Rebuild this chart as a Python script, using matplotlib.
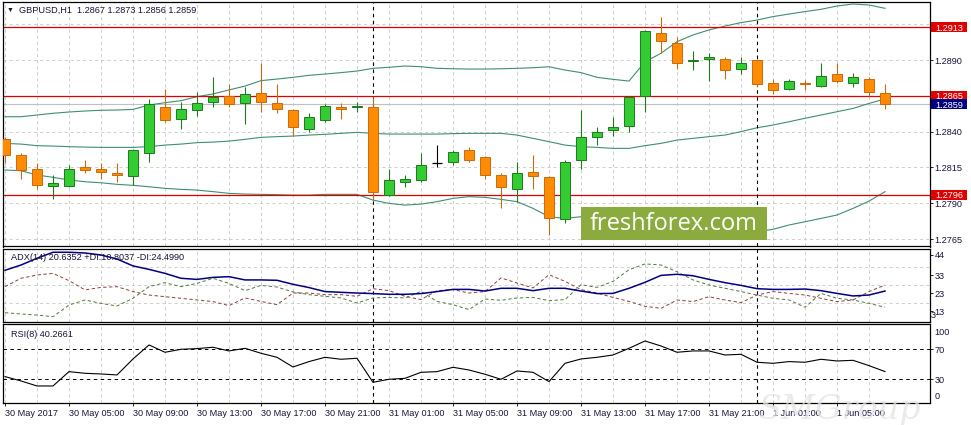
import numpy as np
import matplotlib
matplotlib.use("Agg")
import matplotlib.pyplot as plt
import matplotlib.transforms as mtransforms
from matplotlib.patches import Rectangle

plt.rcParams['font.family'] = ['Liberation Sans', 'DejaVu Sans']
plt.rcParams['lines.scale_dashes'] = False

header = "GBPUSD,H1  1.2867 1.2873 1.2856 1.2859"
adx_title = "ADX(14) 20.6352 +DI:10.8037 -DI:24.4990"
rsi_title = "RSI(8) 40.2661"

first_bar = np.datetime64("2017-05-30T01:00")

# hourly candles
opens = [1.2835, 1.2824, 1.2814, 1.2802, 1.2802, 1.2815, 1.2814, 1.2811, 1.2809, 1.2825,
         1.2857, 1.2849, 1.2855, 1.2861, 1.2865, 1.2860, 1.2867, 1.2860, 1.2855, 1.2842,
         1.2848, 1.2857, 1.2857, 1.2857, 1.2796, 1.2805, 1.2806, 1.2818, 1.2819, 1.2827,
         1.2822, 1.2810, 1.2800, 1.2812, 1.2808, 1.2779, 1.2820, 1.2836, 1.2841, 1.2844,
         1.2865, 1.2909, 1.2902, 1.2889, 1.2891, 1.2891, 1.2884, 1.2890, 1.2874, 1.2870,
         1.2874, 1.2872, 1.2880, 1.2874, 1.2877, 1.2867]
highs = [1.2836, 1.2825, 1.2818, 1.2810, 1.2817, 1.2820, 1.2818, 1.2818, 1.2828, 1.2863,
         1.2870, 1.2861, 1.2868, 1.2878, 1.2873, 1.2871, 1.2888, 1.2873, 1.2856, 1.2853,
         1.2859, 1.2860, 1.2861, 1.2864, 1.2814, 1.2810, 1.2825, 1.2831, 1.2827, 1.2829,
         1.2823, 1.2811, 1.2819, 1.2824, 1.2809, 1.2820, 1.2855, 1.2843, 1.2850, 1.2865,
         1.2911, 1.2920, 1.2906, 1.2896, 1.2895, 1.2892, 1.2892, 1.2891, 1.2877, 1.2877,
         1.2876, 1.2888, 1.2888, 1.2881, 1.2878, 1.2873]
lows = [1.2818, 1.2807, 1.2800, 1.2793, 1.2801, 1.2811, 1.2807, 1.2805, 1.2803, 1.2819,
        1.2847, 1.2842, 1.2851, 1.2857, 1.2857, 1.2845, 1.2854, 1.2853, 1.2837, 1.2840,
        1.2847, 1.2849, 1.2854, 1.2792, 1.2795, 1.2801, 1.2805, 1.2815, 1.2817, 1.2819,
        1.2807, 1.2787, 1.2791, 1.2800, 1.2768, 1.2776, 1.2814, 1.2831, 1.2837, 1.2840,
        1.2854, 1.2895, 1.2884, 1.2883, 1.2875, 1.2877, 1.2880, 1.2871, 1.2866, 1.2869,
        1.2869, 1.2871, 1.2874, 1.2871, 1.2865, 1.2856]
closes = [1.2824, 1.2813, 1.2803, 1.2804, 1.2814, 1.2813, 1.2812, 1.2810, 1.2827, 1.2859,
          1.2848, 1.2856, 1.2860, 1.2864, 1.2859, 1.2866, 1.2861, 1.2856, 1.2843, 1.2850,
          1.2858, 1.2856, 1.2858, 1.2798, 1.2806, 1.2807, 1.2817, 1.2818, 1.2826, 1.2820,
          1.2810, 1.2801, 1.2811, 1.2809, 1.2780, 1.2819, 1.2836, 1.2840, 1.2843, 1.2864,
          1.2910, 1.2903, 1.2888, 1.2890, 1.2892, 1.2883, 1.2888, 1.2873, 1.2869, 1.2875,
          1.2873, 1.2879, 1.2875, 1.2878, 1.2868, 1.2859]

bb_upper = [1.28504, 1.28504, 1.28516, 1.28528, 1.28537, 1.28544, 1.28549, 1.28551, 1.28555, 1.28586,
            1.28602, 1.28616, 1.28644, 1.28663, 1.28691, 1.28718, 1.28756, 1.28767, 1.28779, 1.28793,
            1.28802, 1.28812, 1.28823, 1.28842, 1.28849, 1.28858, 1.28853, 1.28842, 1.28839, 1.28837,
            1.28837, 1.28839, 1.28842, 1.28846, 1.28853, 1.28830, 1.28812, 1.28779, 1.28765, 1.28753,
            1.28888, 1.28947, 1.29028, 1.29075, 1.29110, 1.29137, 1.29161, 1.29179, 1.29203, 1.29221,
            1.29238, 1.29254, 1.29277, 1.29291, 1.29284, 1.29261]
bb_mid = [1.28318, 1.28313, 1.28302, 1.28299, 1.28295, 1.28292, 1.28290, 1.28290, 1.28290, 1.28295,
          1.28306, 1.28313, 1.28323, 1.28327, 1.28334, 1.28346, 1.28360, 1.28365, 1.28369, 1.28376,
          1.28381, 1.28388, 1.28395, 1.28388, 1.28383, 1.28383, 1.28383, 1.28383, 1.28386, 1.28388,
          1.28388, 1.28388, 1.28376, 1.28353, 1.28330, 1.28306, 1.28295, 1.28290, 1.28283, 1.28283,
          1.28302, 1.28318, 1.28341, 1.28353, 1.28365, 1.28376, 1.28400, 1.28427, 1.28446, 1.28469,
          1.28493, 1.28516, 1.28539, 1.28562, 1.28597, 1.28628]
bb_lower = [1.28132, 1.28127, 1.28097, 1.28081, 1.28062, 1.28050, 1.28043, 1.28032, 1.28025, 1.28015,
            1.28004, 1.27997, 1.27992, 1.27981, 1.27969, 1.27964, 1.27962, 1.27960, 1.27957, 1.27957,
            1.27962, 1.27962, 1.27962, 1.27922, 1.27899, 1.27887, 1.27894, 1.27911, 1.27934, 1.27946,
            1.27941, 1.27927, 1.27911, 1.27864, 1.27806, 1.27794, 1.27806, 1.27783, 1.27764, 1.27748,
            1.27713, 1.27690, 1.27678, 1.27671, 1.27671, 1.27678, 1.27690, 1.27701, 1.27718, 1.27748,
            1.27771, 1.27794, 1.27818, 1.27864, 1.27915, 1.27981]

adx = [35.6, 38.5, 42.2, 45.5, 45.5, 45.1, 44.0, 41.8, 38.0, 36.1,
       33.9, 31.2, 30.6, 31.7, 32.1, 30.3, 30.3, 30.1, 27.9, 26.1,
       23.9, 23.5, 23.1, 22.8, 22.4, 22.4, 22.8, 23.9, 25.1, 25.1,
       24.2, 25.7, 25.7, 24.4, 25.7, 25.7, 24.2, 22.8, 22.9, 25.7,
       29.0, 32.8, 33.4, 32.6, 30.6, 28.8, 27.3, 25.5, 25.1, 25.1,
       25.3, 24.4, 22.9, 21.5, 22.0, 24.2]
plus_di = [12.3, 11.6, 11.0, 10.1, 16.5, 19.3, 17.4, 16.0, 20.2, 26.6,
           28.8, 26.6, 28.4, 31.2, 28.4, 24.4, 27.3, 26.4, 23.7, 22.2,
           21.3, 20.4, 17.6, 20.4, 20.7, 20.4, 24.0, 18.5, 16.7, 14.0,
           19.8, 19.1, 20.4, 20.7, 18.9, 19.5, 27.7, 26.2, 29.5, 35.9,
           39.1, 38.5, 34.8, 30.3, 27.5, 25.7, 23.9, 22.0, 20.2, 19.3,
           15.3, 22.9, 20.2, 19.3, 17.4, 15.3]
minus_di = [26.6, 31.2, 33.0, 33.9, 29.9, 24.8, 26.2, 26.6, 23.9, 22.0,
            21.1, 20.2, 19.3, 18.4, 16.2, 20.4, 18.5, 16.7, 23.1, 23.1,
            22.2, 22.2, 21.3, 25.5, 24.4, 21.3, 19.5, 24.4, 25.0, 23.1,
            23.9, 31.4, 28.6, 25.9, 33.2, 29.5, 25.0, 23.1, 20.7, 18.5,
            15.8, 14.7, 19.3, 18.4, 21.1, 19.3, 17.8, 22.0, 23.9, 22.9,
            22.0, 20.2, 18.4, 19.3, 23.9, 27.5]
rsi = [33.6, 27.8, 21.1, 21.1, 40.2, 38.0, 37.1, 35.8, 57.1, 75.8,
       66.0, 70.0, 70.9, 72.7, 67.8, 71.3, 64.7, 59.3, 46.4, 53.6,
       59.3, 56.7, 58.0, 26.0, 30.0, 31.3, 39.3, 40.2, 46.0, 42.4,
       36.7, 30.0, 41.1, 39.3, 26.9, 51.3, 57.1, 59.3, 62.4, 71.3,
       81.1, 74.4, 66.0, 67.8, 67.8, 62.4, 63.3, 52.7, 51.3, 53.6,
       52.7, 56.7, 54.4, 55.3, 48.2, 40.3]

levels = [1.2913, 1.2865, 1.2796]
last_price = 1.2859
price_ticks = [1.2765, 1.2790, 1.2815, 1.2840, 1.2865, 1.2890, 1.2915]
price_labels = ["1.2765", "1.2790", "1.2815", "1.2840", "", "1.2890", ""]
adx_ticks = [44, 33, 23, 13]
adx_grid = [37.5, 27.5, 17.5]
rsi_levels = [70, 30]
time_labels = ["30 May 2017", "30 May 05:00", "30 May 09:00", "30 May 13:00",
               "30 May 17:00", "30 May 21:00", "31 May 01:00", "31 May 05:00",
               "31 May 09:00", "31 May 13:00", "31 May 17:00", "31 May 21:00",
               "1 Jun 01:00", "1 Jun 05:00"]

n = len(opens)
x = np.arange(n)
times = first_bar + x * np.timedelta64(1, "h")
hours = (times - times.astype("datetime64[D]")).astype("timedelta64[h]").astype(int)
day_starts = x[hours == 0]

TXT = "#15153a"
FS = 6.6
GRID = dict(color="#c6c6c6", linestyle=(0, (2.2, 2.2)), linewidth=0.6)
W, H = 971, 425
fig = plt.figure(figsize=(W / 100, H / 100), dpi=100)


def box(x0, y0, x1, y1):
    return [x0 / W, 1 - y1 / H, (x1 - x0) / W, (y1 - y0) / H]


ax = fig.add_axes(box(3, 2, 929.5, 246.5))
ax_adx = fig.add_axes(box(3, 248.5, 929.5, 321.5))
ax_rsi = fig.add_axes(box(3, 324, 929.5, 403))

for a in (ax, ax_adx, ax_rsi):
    a.set_xlim(-0.125, 57.78)
    for s in a.spines.values():
        s.set_color("black")
        s.set_linewidth(0.9)
    a.yaxis.tick_right()
    a.tick_params(axis="y", labelsize=FS, labelcolor=TXT, length=2.3, width=0.6, pad=1.5)
    a.tick_params(axis="x", which="both", bottom=False, labelbottom=False)
    for xv in x[::2]:
        a.axvline(xv, zorder=0, **GRID)
    for d in day_starts:
        a.axvline(d, color="black", lw=0.8, linestyle=(0, (2.5, 2.5)), zorder=3)

# ---- main price panel
ax.set_ylim(1.27598, 1.29305)
ax.set_yticks(price_ticks)
ax.set_yticklabels(price_labels)
for p in price_ticks:
    ax.axhline(p, zorder=0, **GRID)

o, h, l, c = map(np.array, (opens, highs, lows, closes))
bull = c > o
bear = c < o
doji = ~(bull | bear)
fill = np.where(bull, "#33cc33", "#ff8c00")
edge = np.where(bull, "#1d7a1d", np.where(bear, "#c96a10", "black"))

band_col = "#3e8f72"
ax.plot(x, bb_upper, color=band_col, lw=0.8, zorder=2)
ax.plot(x, bb_mid, color=band_col, lw=0.8, zorder=2)
ax.plot(x, bb_lower, color=band_col, lw=0.8, zorder=2)

ax.axhline(last_price, color="#c0c0c0", lw=0.8, zorder=1)
for lv in levels:
    ax.axhline(lv, color="#e00000", lw=0.9, zorder=2)

ax.vlines(x, l, h, colors=edge, lw=0.8, zorder=3)
body = ~doji
ax.bar(x[body], np.abs(c - o)[body], bottom=np.minimum(o, c)[body], width=0.62,
       color=fill[body], edgecolor=edge[body], linewidth=0.7, zorder=4)
ax.hlines(c[doji], x[doji] - 0.31, x[doji] + 0.31, colors="black", lw=0.9, zorder=4)

ax_h_px = 244.5
px = (ax.get_ylim()[1] - ax.get_ylim()[0]) / ax_h_px
trans = mtransforms.blended_transform_factory(ax.transAxes, ax.transData)


def price_box(price, color):
    hh = 10 * px
    ax.add_patch(Rectangle((1.0017, price - hh / 2), 0.0389, hh, transform=trans,
                           facecolor=color, edgecolor="none", clip_on=False, zorder=6))
    ax.text(1.0017 + 0.0195, price, f"{price:.4f}", transform=trans, color="white",
            ha="center", va="center_baseline", fontsize=FS, clip_on=False, zorder=7)


for lv in levels:
    price_box(lv, "#e00000")
price_box(last_price, "#000080")

fig.text(10 / W, 1 - 10 / H, "\u25bc", fontsize=5, color=TXT, ha="center", va="center")
fig.text(19 / W, 1 - 10 / H, header, fontsize=FS, color=TXT, ha="left", va="center")

# ---- ADX panel
ax_adx.set_ylim(7.46, 47.57)
ax_adx.set_yticks(adx_ticks)
for g in adx_grid:
    ax_adx.axhline(g, zorder=0, **GRID)
ax_adx.plot(x, adx, color="#000080", lw=1.1, zorder=4)
ax_adx.plot(x, plus_di, color="#4d7a3a", lw=0.7, linestyle=(0, (2.4, 1.8)), zorder=3)
ax_adx.plot(x, minus_di, color="#8e3b3b", lw=0.7, linestyle=(0, (2.4, 1.8)), zorder=3)
ax_adx.annotate("3", xy=(1, 0), xycoords="axes fraction", xytext=(0.6, 1.0),
                textcoords="offset points", fontsize=FS, color=TXT, va="bottom",
                annotation_clip=False)
ax_adx.text(8 / 926.5, 0.88, adx_title, transform=ax_adx.transAxes, fontsize=FS,
            color=TXT, va="center", zorder=5)

# ---- RSI panel
ax_rsi.set_ylim(-1.6, 103.7)
ax_rsi.set_yticks(rsi_levels)
for lv in rsi_levels:
    ax_rsi.axhline(lv, color="black", lw=0.7, linestyle=(0, (2.5, 2.5)), zorder=2)
ax_rsi.plot(x, rsi, color="black", lw=0.8, zorder=4)
ax_rsi.annotate("100", xy=(1, 100), xycoords=("axes fraction", "data"), xytext=(3.7, -3.8),
                textcoords="offset points", fontsize=FS, color=TXT, va="center",
                annotation_clip=False)
ax_rsi.annotate("0", xy=(1, 0), xycoords=("axes fraction", "data"), xytext=(3.7, 3.9),
                textcoords="offset points", fontsize=FS, color=TXT, va="center",
                annotation_clip=False)
ax_rsi.text(8 / 926.5, 0.87, rsi_title, transform=ax_rsi.transAxes, fontsize=FS,
            color=TXT, va="center", zorder=5)

ax_rsi.tick_params(axis="x", which="major", bottom=True, labelbottom=True, length=2.5,
                   width=0.6, pad=1.5, labelsize=FS, labelcolor=TXT)
ax_rsi.set_xticks(x[::4])
ax_rsi.set_xticklabels(time_labels, ha="left")

# ---- watermarks
fig.patches.append(Rectangle((581 / W, 1 - 240 / H), 186 / W, 33 / H, transform=fig.transFigure,
                             facecolor="#8cab3e", edgecolor="none", zorder=10))
fig.text(674 / W, 1 - 224 / H, "freshforex.com", fontsize=17, color="white",
         family="Open Sans", ha="center", va="center", zorder=11)
fig.text(758 / W, 1 - 419 / H, "SMGroup", fontsize=24, color="#e4e4e4", family="DejaVu Serif",
         style="italic", ha="left", va="baseline", zorder=1, alpha=0.75)

fig.savefig("out.png", dpi=100)
